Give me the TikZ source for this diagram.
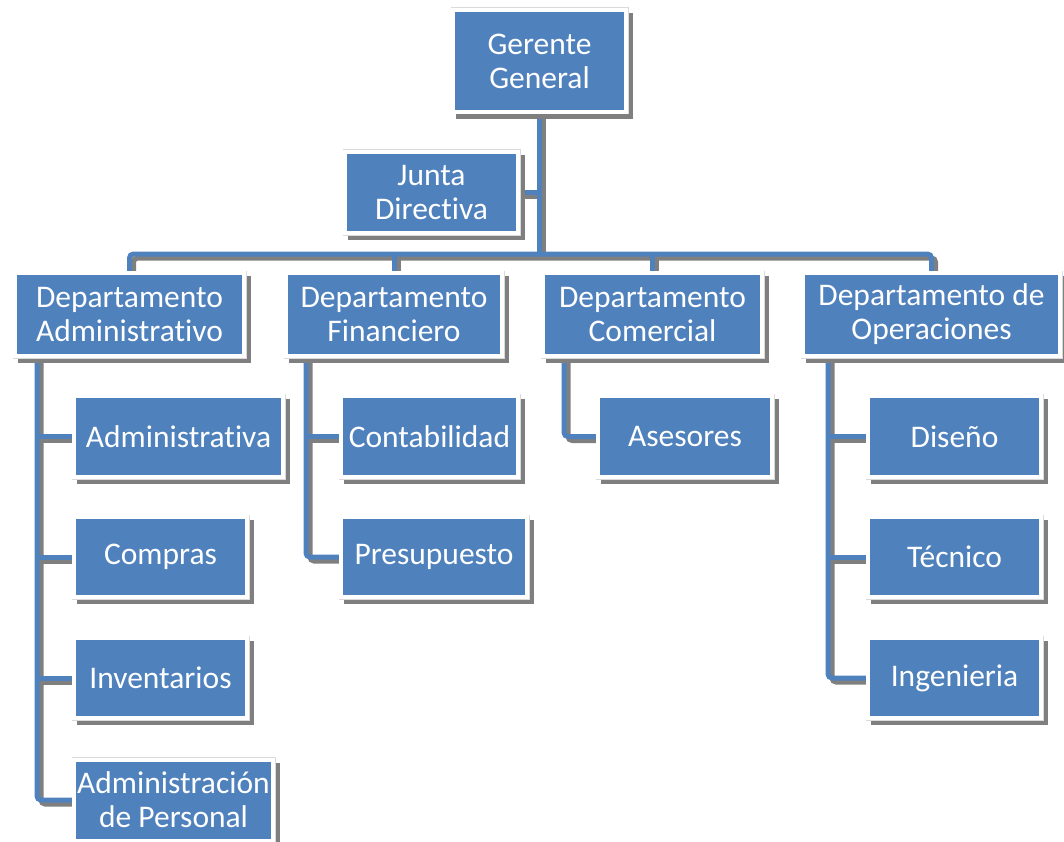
\documentclass[tikz,border=0pt]{standalone}
\usepackage{fontspec}
\setmainfont[Ligatures={NoCommon}]{Carlito}
\definecolor{boxblue}{HTML}{4F81BD}
\definecolor{shade}{HTML}{7F7F7F}
\definecolor{rim}{HTML}{DADADA}
\pgfdeclarelayer{bg}
\pgfsetlayers{bg,main}
\tikzset{
  orgbox/.style={rectangle, fill=boxblue, draw=white, line width=4pt,
    text=white, font=\fontsize{31.5}{34}\selectfont, align=center, inner sep=0pt,
    preaction={fill=shade, draw=shade, line width=4pt,
      transform canvas={xshift=5pt, yshift=-5pt}},
    preaction={draw=rim, line width=5pt}},
  link/.style={draw=boxblue, line width=5pt, rounded corners=4pt,
    preaction={draw=shade, line width=5pt,
      transform canvas={xshift=4pt, yshift=-4pt}}},
}
\begin{document}
\begin{tikzpicture}[x=1pt, y=-1pt]
  \useasboundingbox (0,0) rectangle (1064,842);

  % top level
  \node[orgbox, minimum width=173pt, minimum height=102pt] (gg) at (539.5,61) {Gerente\\General};
  \node[orgbox, minimum width=173pt, minimum height=81pt] (jd) at (431.5,192.5) {Junta\\Directiva};

  % departments
  \node[orgbox, minimum width=229pt, minimum height=83pt] (dadm) at (129.5,314.5) {Departamento\\Administrativo};
  \node[orgbox, minimum width=216pt, minimum height=83pt] (dfin) at (394,314.5) {Departamento\\Financiero};
  \node[orgbox, minimum width=219pt, minimum height=83pt] (dcom) at (652.5,314.5) {Departamento\\Comercial};
  \node[orgbox, minimum width=257pt, minimum height=83pt] (dop) at (931.5,314.5) {Departamento de\\Operaciones};

  % administrative units
  \node[orgbox, minimum width=209pt, minimum height=81pt] (aadm) at (178.5,436.5) {Administrativa};
  \node[orgbox, minimum width=173pt, minimum height=80pt] (acomp) at (160.5,557) {Compras};
  \node[orgbox, minimum width=173pt, minimum height=80pt] (ainv) at (160.5,678) {Inventarios};
  \node[orgbox, minimum width=199pt, minimum height=81pt] (apers) at (173.5,800) {Administración\\de Personal};

  % financial units
  \node[orgbox, minimum width=177pt, minimum height=81pt] (fcont) at (429.5,436.5) {Contabilidad};
  \node[orgbox, minimum width=186pt, minimum height=80pt] (fpres) at (434,557) {Presupuesto};

  % commercial units
  \node[orgbox, minimum width=174pt, minimum height=81pt] (casc) at (685,436.5) {Asesores};

  % operations units
  \node[orgbox, minimum width=173pt, minimum height=81pt] (odis) at (954.5,436.5) {Diseño};
  \node[orgbox, minimum width=173pt, minimum height=80pt] (otec) at (954.5,557) {Técnico};
  \node[orgbox, minimum width=173pt, minimum height=80pt] (oing) at (954.5,678) {Ingenieria};

  % junction points
  \coordinate (bus) at (539.5,254);
  \coordinate (sa) at (37,0);
  \coordinate (sf) at (306,0);
  \coordinate (sc) at (564,0);
  \coordinate (so) at (828,0);

  \begin{pgfonlayer}{bg}
    \draw[link] (jd.east) -- (jd.east -| bus);
    \draw[link] (gg.south) -- (bus);
    \draw[link] (dadm.north) |- (bus) -| (dop.north);
    \draw[link] (dfin.north |- bus) -- (dfin.north);
    \draw[link] (dcom.north |- bus) -- (dcom.north);

    \draw[link] (dadm.south -| sa) |- (apers.west);
    \draw[link] (aadm.west -| sa) -- (aadm.west);
    \draw[link] (acomp.west -| sa) -- (acomp.west);
    \draw[link] (ainv.west -| sa) -- (ainv.west);

    \draw[link] (dfin.south -| sf) |- (fpres.west);
    \draw[link] (fcont.west -| sf) -- (fcont.west);

    \draw[link] (dcom.south -| sc) |- (casc.west);

    \draw[link] (dop.south -| so) |- (oing.west);
    \draw[link] (odis.west -| so) -- (odis.west);
    \draw[link] (otec.west -| so) -- (otec.west);
  \end{pgfonlayer}
\end{tikzpicture}
\end{document}
